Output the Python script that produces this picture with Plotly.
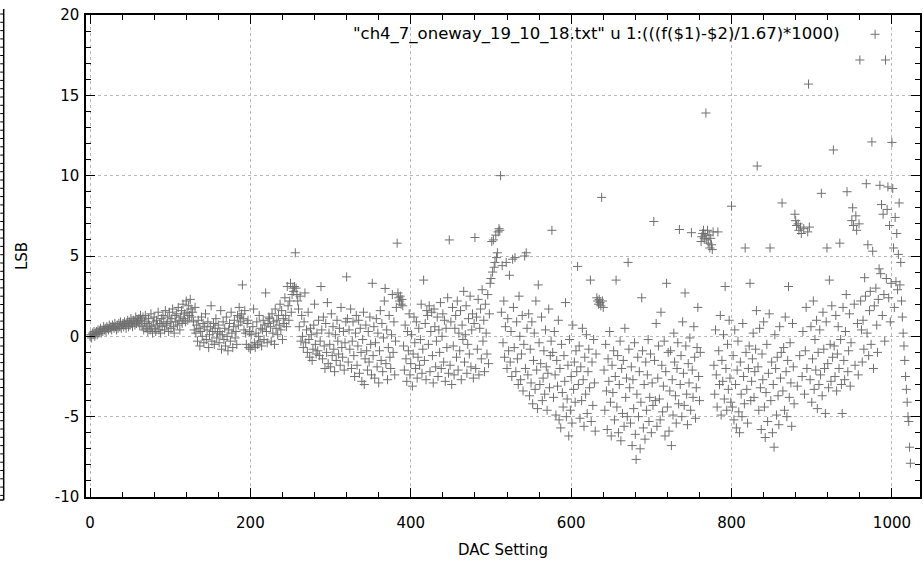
import numpy as np
import plotly.graph_objects as go

# LSB error per DAC setting, in consecutive blocks of 32 codes
lsb_000 = [0.0,0.1,-0.1,0.2,0.1,0.3,0.0,0.2,0.3,0.1,0.4,0.2,0.3,0.5,0.2,0.4,0.3,0.6,0.4,0.5,0.3,0.6,0.5,0.4,0.7,0.5,0.6,0.4,0.7,0.6,0.5,0.8]
lsb_032 = [0.6,0.4,0.7,0.5,0.8,0.6,0.9,0.5,0.7,0.8,0.6,0.9,0.7,0.5,0.8,1.0,0.6,0.9,0.7,1.1,0.8,0.6,1.0,0.9,0.7,1.2,0.8,1.0,0.9,1.1,0.7,1.3]
lsb_064 = [1.0,0.6,1.2,0.4,0.9,1.3,0.5,0.8,0.3,1.1,0.7,0.4,1.4,0.6,0.2,0.9,1.2,0.5,0.3,1.0,0.7,1.5,0.4,0.8,0.2,1.1,0.6,1.3,0.9,0.4,1.6,0.7]
lsb_096 = [0.8,1.2,0.3,1.5,0.9,0.5,1.1,1.7,0.6,0.2,1.3,0.9,1.4,0.7,1.8,1.0,0.4,1.2,1.6,0.8,2.0,1.1,1.4,0.9,2.2,1.5,1.0,1.9,1.3,2.3,1.7,1.2]
lsb_128 = [1.5,0.9,0.4,1.8,0.2,0.7,-0.3,1.0,0.5,-0.6,0.3,1.2,0.0,0.8,-0.4,0.6,1.4,-0.2,0.4,0.9,-0.7,0.1,0.6,1.9,-0.3,0.3,0.8,-0.5,0.5,1.1,-0.1,0.2]
lsb_160 = [0.7,-0.4,0.3,1.6,-0.8,0.1,0.9,-0.2,0.5,-0.6,1.2,0.0,-0.9,0.4,0.8,-0.3,1.5,0.2,-0.7,0.6,1.0,-0.1,0.3,-0.5,1.3,0.7,1.8,1.2,0.9,1.4,3.2,1.1]
lsb_192 = [0.4,1.6,0.2,-0.5,0.8,1.0,-0.7,0.3,-0.8,0.1,-0.6,0.6,1.7,-0.4,-0.7,0.2,0.9,-0.5,0.0,1.3,-0.3,0.5,-0.6,0.4,1.0,-0.2,0.7,2.7,0.3,-0.4,0.8,1.2]
lsb_224 = [1.1,0.6,-0.3,1.4,0.2,0.9,-0.5,1.7,0.5,1.0,0.1,1.3,0.7,2.0,0.4,1.6,-0.2,1.1,0.8,2.4,1.3,0.6,3.1,1.9,1.0,2.2,3.3,1.5,2.6,3.0,2.8,3.1]
lsb_256 = [5.2,3.0,2.6,2.2,1.7,0.6,2.5,-0.3,1.3,0.0,-0.7,0.9,2.7,-0.4,0.4,-1.0,1.5,-0.2,-1.3,0.5,0.1,-1.5,-0.8,0.7,2.0,-0.5,-1.1,0.2,-0.9,1.0,-1.2,-0.3]
lsb_288 = [3.1,0.4,-1.4,1.2,-0.6,-2.0,0.8,-1.0,2.1,-1.7,0.2,-0.5,-1.9,1.4,-1.2,0.6,-0.8,-2.2,0.1,-1.5,1.0,-0.3,-1.1,0.5,-1.8,1.8,-0.7,-1.3,0.3,-2.1,-0.4,0.9]
lsb_320 = [3.7,1.1,-1.6,0.4,-0.8,1.7,-2.0,-0.3,0.9,-1.2,-2.5,0.2,1.3,-1.8,-0.6,1.0,-2.3,0.5,-1.0,-2.8,-0.2,1.5,-3.0,-1.4,0.7,-0.9,-2.1,0.3,-1.6,1.2,-0.5,-2.4]
lsb_352 = [3.3,-1.2,0.6,-2.6,-0.4,1.1,-1.9,0.2,-2.9,-0.9,1.6,-1.5,0.8,-2.2,-0.1,2.2,2.98,-1.7,0.4,-2.7,-0.7,1.3,-1.3,-2.0,0.1,2.6,-1.0,0.9,-2.4,-0.3,1.8,5.8]
lsb_384 = [2.7,2.4,2.2,2.5,2.0,2.3,1.9,-0.6,-2.1,0.7,-1.4,-2.8,0.3,-0.9,1.4,-2.4,-1.7,0.1,-3.1,-1.1,1.2,-0.4,-2.0,0.9,-2.6,-1.3,0.5,-1.8,-0.2,2.0,-2.3,-0.8]
lsb_416 = [3.5,-1.5,0.8,-2.7,1.6,1.3,-0.5,1.9,-2.2,0.3,1.5,-1.2,-2.9,1.7,0.6,-1.9,-0.3,1.2,-2.5,0.4,-1.0,2.1,-2.0,0.0,1.4,-1.6,1.0,-2.8,0.5,-0.7,2.4,-2.3]
lsb_448 = [6.0,-1.8,0.9,-3.0,1.8,-0.6,-2.4,0.5,1.3,-1.3,2.2,-2.1,0.2,-0.9,1.6,-2.7,0.7,-0.2,2.8,-1.6,0.1,1.9,-2.3,-0.5,1.1,-1.1,2.5,-1.9,0.4,1.4,-2.6,0.8]
lsb_480 = [6.15,-2.0,1.2,-0.8,2.3,-2.4,0.5,1.7,-1.4,2.9,-0.3,1.0,-2.2,2.0,0.2,-1.1,2.6,-1.7,1.4,3.3,3.6,5.9,4.0,6.0,4.3,4.6,6.3,4.9,5.2,6.5,6.7,6.6]
lsb_512 = [10.0,1.5,4.4,-0.4,2.2,-1.3,0.6,4.6,-2.0,1.1,-0.9,3.8,-1.6,0.3,-2.5,4.8,1.8,-0.7,4.9,-2.2,0.9,-1.4,-3.0,2.5,0.0,-2.7,-1.1,1.3,-3.4,-0.5,5.0,-2.0]
lsb_544 = [5.2,0.5,-2.4,1.4,-3.7,-0.8,-2.9,0.9,-4.2,-1.5,0.2,-3.3,2.2,-2.1,-4.5,3.2,-0.4,-3.0,-1.7,1.2,-4.0,-2.6,-0.9,-3.6,0.4,-1.9,-4.6,-2.3,1.7,-3.2,-1.2,-0.3]
lsb_576 = [6.6,-1.0,-3.8,0.3,-2.4,-4.9,-1.5,-3.1,1.0,-5.2,-2.0,-5.7,-0.5,-3.5,-4.4,-1.2,-2.8,2.1,-5.0,-3.9,-1.8,-6.2,-0.2,-4.6,-2.5,-5.4,0.7,-3.3,-1.6,-4.1,-0.9,-2.2]
lsb_608 = [4.35,-3.0,-0.6,-5.1,-1.9,-4.0,0.5,-2.7,-5.6,-1.3,-3.6,0.1,-4.8,-2.2,-0.8,-3.2,3.5,-5.3,-1.6,-4.3,-0.2,-2.9,-5.9,-1.1,2.4,2.2,2.0,2.3,2.1,1.9,8.65,2.2]
lsb_640 = [1.8,-2.1,-4.6,-0.5,-3.4,-5.8,-1.4,-2.8,0.3,-4.1,-6.2,-1.8,-3.5,-0.9,-5.2,-2.5,3.5,-4.4,-1.2,-6.0,-3.0,-0.3,-6.5,-2.0,-4.8,-1.5,-5.6,0.5,-3.8,-2.6,-5.0,4.6]
lsb_672 = [-0.8,-3.2,-5.4,-1.9,-6.8,-2.7,-4.5,-0.4,-6.1,-7.66,-3.6,-1.3,-5.0,-2.2,-7.0,-4.1,2.4,-0.9,-5.7,-3.0,-6.4,-1.6,-4.6,-2.4,-0.2,-5.3,-3.8,-1.1,-6.0,-2.9,-4.3,7.15]
lsb_704 = [-1.5,-4.0,0.8,-5.6,-2.6,-0.6,-3.9,-5.2,1.5,-1.8,-4.7,-3.1,-0.3,-6.2,-2.2,3.3,-4.4,-1.0,-5.9,-3.4,-0.9,-6.8,-2.7,-4.9,0.2,-1.6,-3.7,-5.4,-2.0,-0.4,-4.2,6.65]
lsb_736 = [-3.0,-1.2,-5.0,0.9,-2.3,-4.3,2.7,-0.6,-3.6,-5.5,-1.7,-2.9,-0.1,-4.6,6.45,-2.1,-3.8,0.6,-1.3,-5.1,-3.2,-0.7,1.8,-2.5,-4.0,-1.0,5.9,6.2,6.4,6.6,6.1,6.3]
lsb_768 = [13.9,6.0,6.6,5.8,6.3,5.5,6.1,5.7,5.4,6.5,-1.8,-3.6,0.4,-2.4,-4.4,6.5,-0.9,-3.0,1.3,-4.9,-1.5,-2.8,0.1,-3.9,3.1,-2.0,-4.6,-0.5,-3.3,1.0,-2.6,-4.1]
lsb_800 = [8.1,-4.4,-1.2,-5.2,0.4,-3.0,-5.7,-2.1,-0.3,-4.7,-6.0,-1.6,-3.6,-5.0,0.8,-2.5,-4.2,5.5,-1.0,-3.3,-5.4,-2.0,-0.6,3.3,-4.0,-2.8,-1.4,0.2,-3.8,-2.2,-0.8,1.6]
lsb_832 = [10.6,-1.9,-4.6,0.5,-3.2,-5.8,-1.1,-2.7,0.9,-4.4,-6.3,-3.5,-0.5,-5.3,-2.3,1.4,5.5,-4.0,-1.6,-6.0,-3.0,-6.9,0.1,-2.0,-4.9,-1.3,-3.7,-5.5,0.6,-2.6,-1.0,8.3]
lsb_864 = [-3.4,-0.7,-4.6,1.2,-2.2,-5.0,-1.5,3.1,-3.8,-0.4,-2.9,-5.6,0.8,-1.9,-4.2,7.6,7.2,6.9,-3.1,7.0,6.6,-1.2,6.8,6.4,-2.5,0.3,6.7,-3.6,-0.9,1.8,-2.0,6.5]
lsb_896 = [15.7,6.8,-2.7,0.6,-4.1,-1.4,2.2,-3.3,-0.2,-2.1,1.0,-4.5,-1.0,-3.0,0.4,-2.4,8.9,-3.7,1.5,-0.8,-2.0,-4.8,0.9,5.5,-1.7,-3.2,3.5,-0.5,-2.8,1.9,-1.3,11.6]
lsb_928 = [-0.6,-2.5,1.3,-3.4,-1.1,0.6,-2.0,5.8,-0.2,-3.0,-4.8,1.8,-1.5,-2.7,0.3,2.6,9.0,-2.2,-0.9,1.4,-3.1,-0.4,7.2,8.0,6.9,2.0,-1.8,7.5,6.6,0.8,-2.4,7.0]
lsb_960 = [17.2,2.2,0.4,-1.6,1.0,-0.8,3.65,2.5,9.5,0.2,5.7,-1.2,1.6,2.8,-0.5,12.1,5.3,-2.0,1.9,18.8,3.0,0.7,-1.0,2.3,4.2,9.4,3.9,8.2,1.3,7.6,2.6,-0.3]
lsb_992 = [17.2,3.6,7.9,9.3,2.4,6.9,0.9,3.3,12.07,9.2,5.5,1.8,7.4,3.4,6.4,2.9,5.1,8.3,3.2,4.6,2.2,1.2,0.2,-0.6,-1.5,-2.5,-3.3,-4.1,-5.0,-5.3,-6.9,-7.9]

blocks = [lsb_000, lsb_032, lsb_064, lsb_096, lsb_128, lsb_160, lsb_192, lsb_224,
          lsb_256, lsb_288, lsb_320, lsb_352, lsb_384, lsb_416, lsb_448, lsb_480,
          lsb_512, lsb_544, lsb_576, lsb_608, lsb_640, lsb_672, lsb_704, lsb_736,
          lsb_768, lsb_800, lsb_832, lsb_864, lsb_896, lsb_928, lsb_960, lsb_992]

dac = []
lsb = []
for b, vals in enumerate(blocks):
    for i, v in enumerate(vals):
        dac.append(32 * b + i)
        lsb.append(v)

x_ticks = [0, 200, 400, 600, 800, 1000]
y_ticks = [-10, -5, 0, 5, 10, 15, 20]
key_label = '"ch4_7_oneway_19_10_18.txt" u 1:(((f($1)-$2)/1.67)*1000)'

FONT = "DejaVu Sans"
GREY = "rgb(112,112,112)"

fig = go.Figure()
fig.add_trace(go.Scatter(
    x=dac, y=lsb, mode="markers", name=key_label,
    marker=dict(symbol="cross-thin-open", size=6.5, color=GREY,
                line=dict(width=1, color=GREY)),
    showlegend=False,
))

axis_common = dict(
    showline=True, linecolor="black", linewidth=1.5, mirror="ticks",
    ticks="inside", ticklen=9, tickwidth=1, tickcolor="black",
    showgrid=True, gridcolor="rgb(185,185,185)", griddash="dot", gridwidth=1,
    zeroline=False,
    tickfont=dict(family=FONT, size=15, color="black"),
)

fig.update_xaxes(
    **axis_common,
    range=[-5, 1035], tickvals=x_ticks, ticktext=[str(v) for v in x_ticks],
    minor=dict(dtick=40, tick0=0, ticks="inside", ticklen=5, tickcolor="black", showgrid=False),
    ticklabelstandoff=11,
    title=dict(text="DAC Setting", font=dict(family=FONT, size=15, color="black"), standoff=14),
)
fig.update_yaxes(
    **axis_common,
    range=[-10, 20], tickvals=y_ticks, ticktext=[str(v) for v in y_ticks],
    minor=dict(dtick=1, tick0=0, ticks="inside", ticklen=5, tickcolor="black", showgrid=False),
    ticklabelstandoff=2,
    title=dict(text="LSB", font=dict(family=FONT, size=15, color="black"), standoff=24),
)

# key text (gnuplot-style, inside the plot, right aligned)
fig.add_annotation(
    text=key_label, xref="paper", yref="paper", x=(844 - 86) / 836, y=(497 - 34) / 482,
    xanchor="right", yanchor="middle", showarrow=False,
    font=dict(family=FONT, size=16.5, color="black"),
)

# edge of the neighbouring panel at the far left
W, H = 836, 482
def px(xp):
    return (xp - 86) / W
def py(yp):
    return (497 - yp) / H
shapes = [dict(type="line", xref="paper", yref="paper", x0=px(3.5), x1=px(3.5), y0=py(9), y1=py(500),
               line=dict(color="black", width=1.5))]
shapes.append(dict(type="line", xref="paper", yref="paper", x0=px(-1), x1=px(3.5), y0=py(500), y1=py(500),
                   line=dict(color="black", width=1.5)))
yy = 14.0
while yy < 500:
    shapes.append(dict(type="line", xref="paper", yref="paper", x0=px(0), x1=px(3.5), y0=py(yy), y1=py(yy),
                       line=dict(color="black", width=1)))
    yy += 8.3
fig.update_layout(shapes=shapes)

fig.update_layout(
    width=924, height=561,
    margin=dict(l=86, r=2, t=15, b=64),
    paper_bgcolor="white", plot_bgcolor="white",
    font=dict(family=FONT, size=15, color="black"),
)

fig.write_html("out.html")
